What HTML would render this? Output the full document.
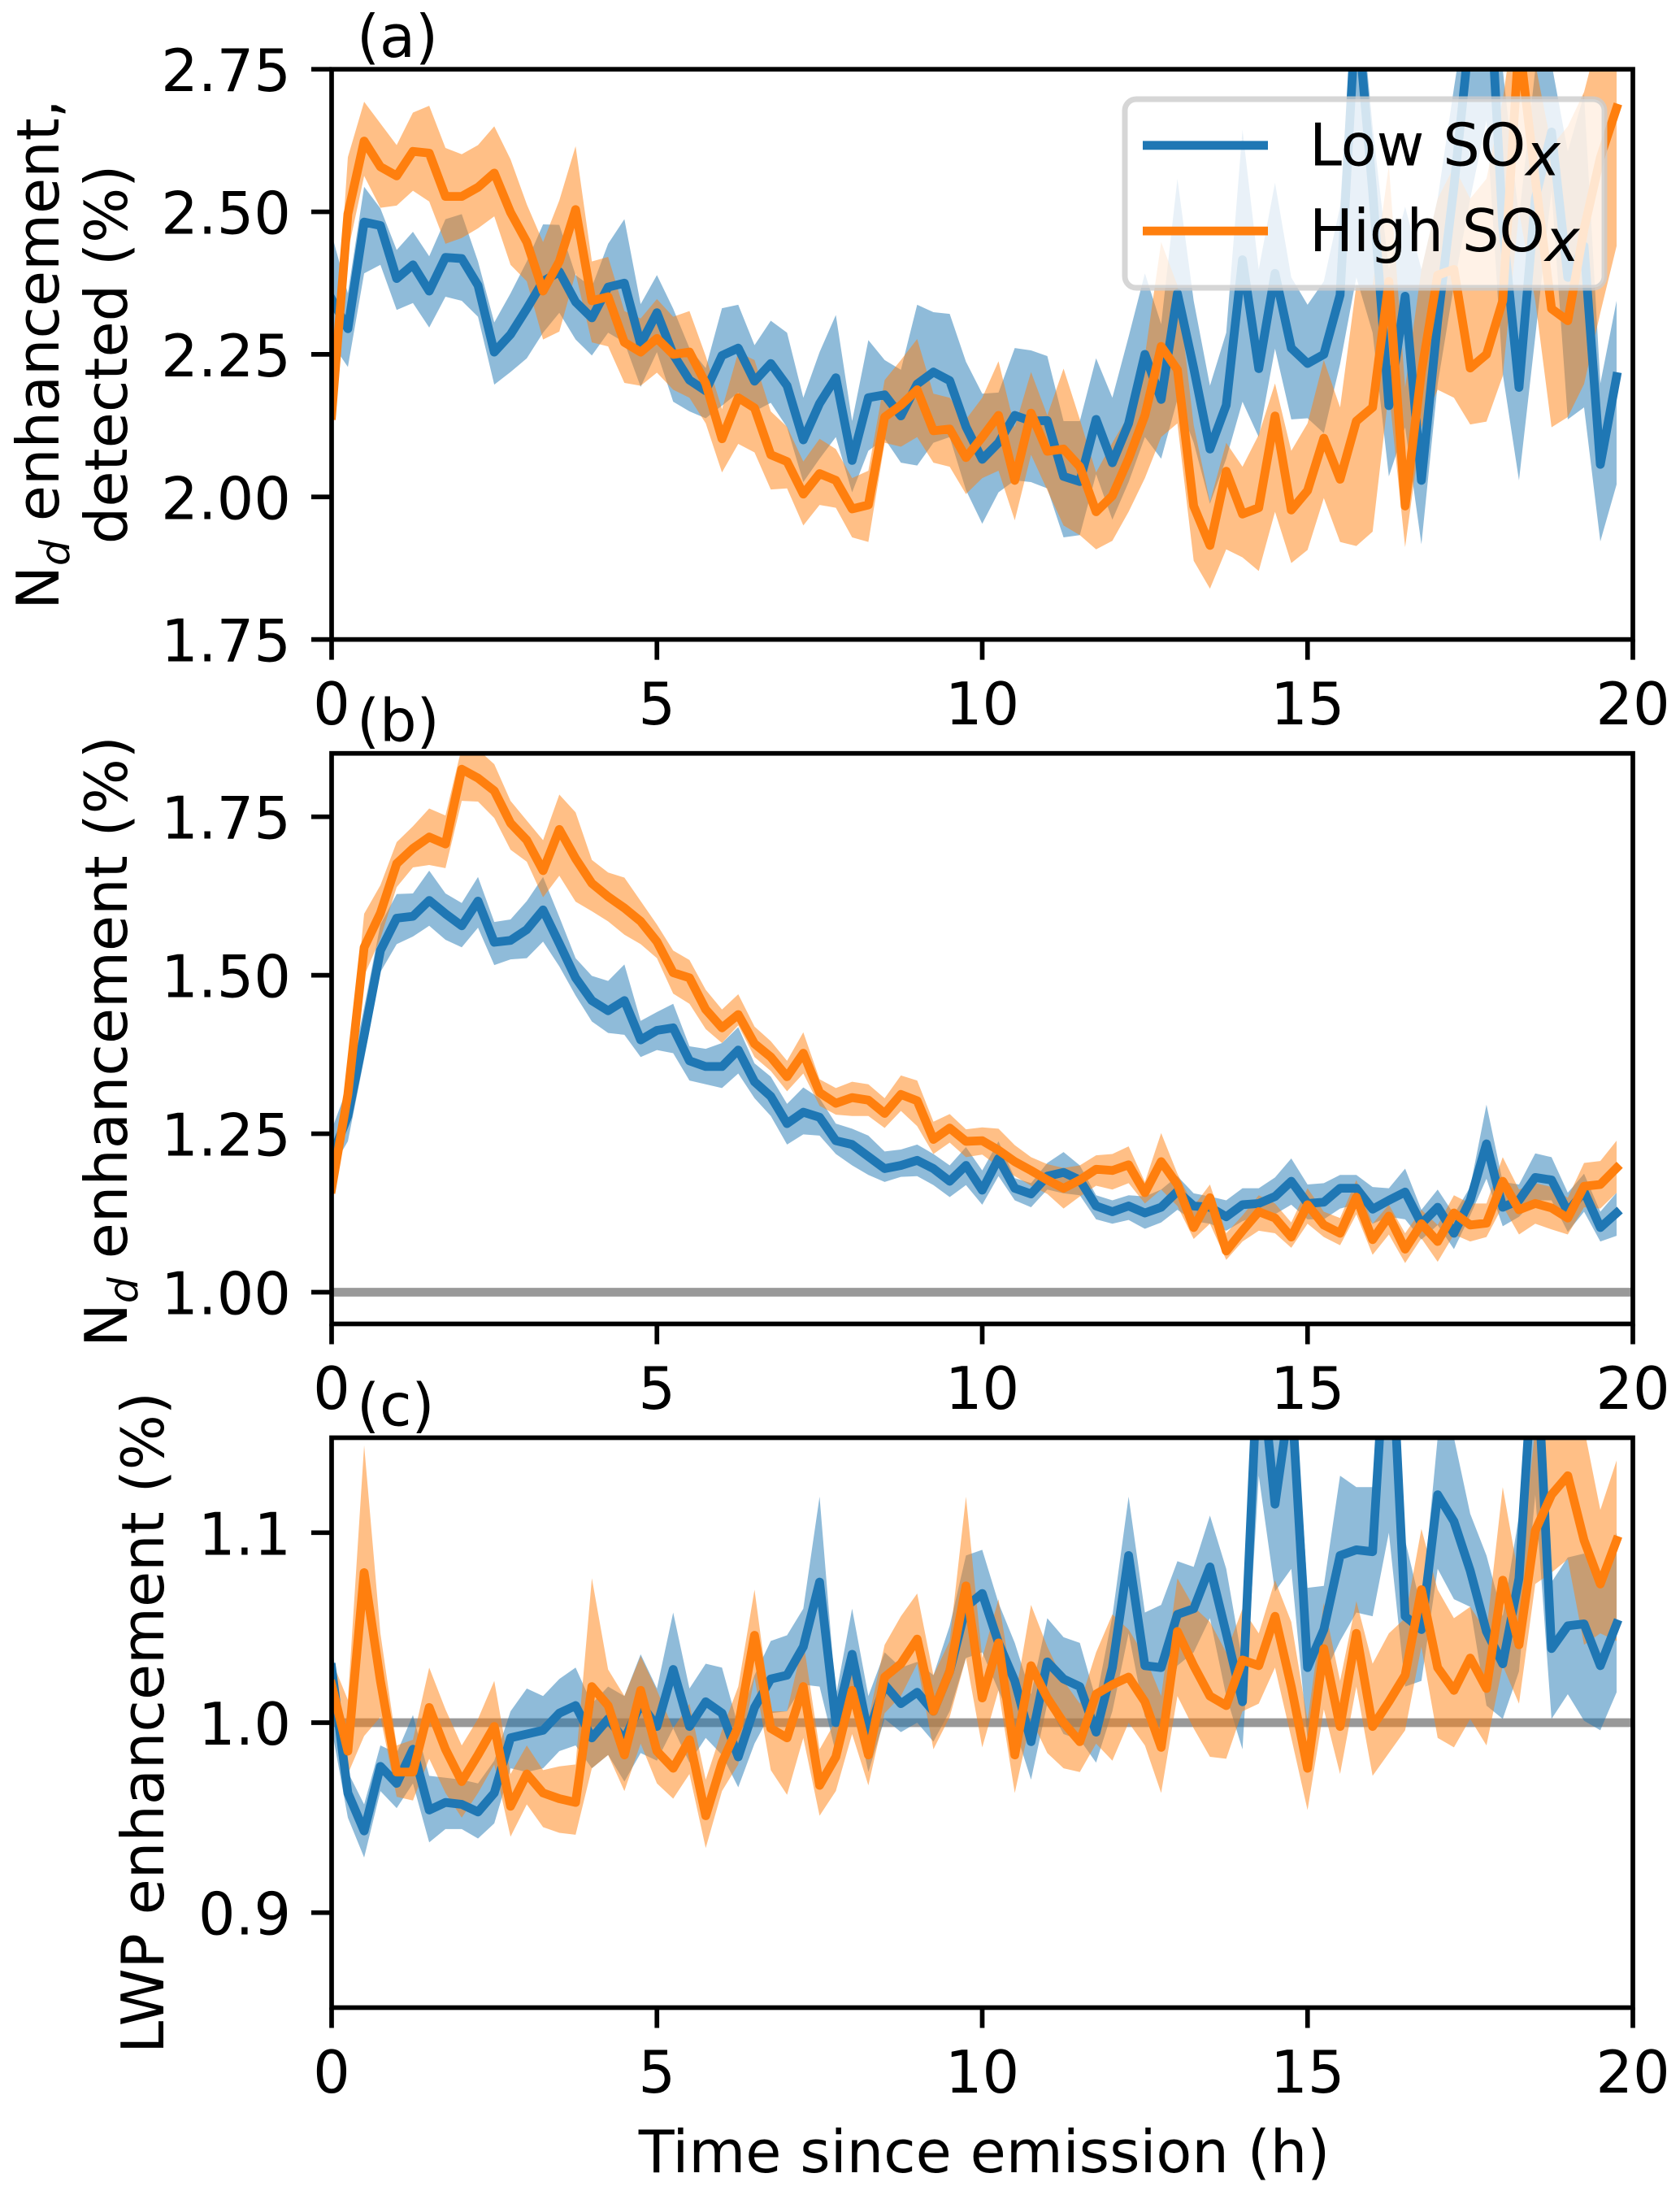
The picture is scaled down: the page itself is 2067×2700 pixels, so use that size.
<!DOCTYPE html>
<html lang="en">
<head>
<meta charset="utf-8">
<title>Nd and LWP enhancement vs time since emission</title>
<style>
html,body{margin:0;padding:0;background:#fff;}
svg{display:block;}
text{font-family:"DejaVu Sans","Liberation Sans",sans-serif;fill:#000;}
</style>
</head>
<body>
<svg id="chart" xmlns="http://www.w3.org/2000/svg" width="2067" height="2700" viewBox="0 0 2067 2700">
<rect x="0" y="0" width="2067" height="2700" fill="#fff"/>
</svg>
<script>
const xTicks=[0,5,10,15,20];
const stepHours=0.25;

const aTicks=[1.75,2.00,2.25,2.50,2.75];
const aTickLabels=["1.75","2.00","2.25","2.50","2.75"];
const aLowMean=[2.347,2.295,2.482,2.476,2.383,2.407,2.361,2.420,2.418,2.371,
2.254,2.285,2.330,2.378,2.395,2.342,2.314,2.368,2.375,2.268,
2.323,2.250,2.205,2.186,2.248,2.261,2.203,2.234,2.195,2.100,
2.164,2.209,2.064,2.174,2.179,2.142,2.198,2.219,2.204,2.123,
2.066,2.095,2.143,2.133,2.134,2.036,2.027,2.136,2.060,2.129,
2.250,2.171,2.357,2.226,2.084,2.161,2.416,2.225,2.392,2.261,
2.234,2.250,2.354,2.865,2.537,2.160,2.352,2.029,2.309,2.544,
2.820,3.000,2.475,2.192,2.523,2.640,2.385,2.440,2.057,2.211];
const aLowHi=[2.461,2.357,2.544,2.506,2.433,2.465,2.422,2.487,2.496,2.413,
2.306,2.357,2.413,2.478,2.477,2.389,2.368,2.444,2.487,2.338,
2.389,2.330,2.261,2.226,2.331,2.337,2.266,2.309,2.288,2.174,
2.254,2.319,2.133,2.275,2.240,2.223,2.337,2.324,2.321,2.237,
2.181,2.183,2.261,2.257,2.247,2.133,2.133,2.243,2.174,2.281,
2.392,2.303,2.558,2.344,2.195,2.288,2.644,2.399,2.551,2.385,
2.337,2.378,2.509,2.950,2.650,2.399,2.509,2.399,2.523,2.717,
2.900,3.100,2.750,2.489,2.750,2.760,2.606,2.706,2.199,2.344];
const aLowLo=[2.270,2.228,2.392,2.407,2.328,2.340,2.297,2.351,2.344,2.316,
2.197,2.219,2.243,2.288,2.323,2.276,2.248,2.288,2.271,2.193,
2.254,2.167,2.150,2.138,2.160,2.183,2.150,2.165,2.122,2.026,
2.067,2.105,2.008,2.081,2.102,2.060,2.055,2.095,2.105,2.012,
1.953,2.008,2.029,2.026,2.015,1.929,1.933,2.040,1.960,2.026,
2.105,2.067,2.171,2.095,1.988,2.067,2.167,2.105,2.260,2.136,
2.138,2.112,2.233,2.385,2.288,2.036,2.122,1.917,2.198,2.371,
2.523,2.660,2.216,2.029,2.281,2.537,2.136,2.157,1.922,2.022];
const aHighMean=[2.143,2.496,2.624,2.579,2.563,2.606,2.603,2.527,2.527,2.543,
2.568,2.499,2.447,2.361,2.413,2.504,2.344,2.351,2.271,2.254,
2.278,2.250,2.254,2.199,2.102,2.174,2.156,2.074,2.062,2.005,
2.041,2.029,1.979,1.986,2.140,2.161,2.188,2.116,2.119,2.069,
2.105,2.143,2.029,2.147,2.080,2.084,2.053,1.974,2.002,2.067,
2.143,2.264,2.223,1.984,1.915,2.045,1.970,1.981,2.142,1.977,
2.011,2.103,2.031,2.133,2.157,2.378,1.984,2.219,2.389,2.399,
2.226,2.250,2.344,2.800,2.558,2.330,2.309,2.470,2.595,2.682];
const aHighHi=[2.170,2.596,2.693,2.655,2.617,2.674,2.686,2.612,2.601,2.617,
2.650,2.592,2.513,2.447,2.520,2.615,2.413,2.421,2.326,2.313,
2.347,2.316,2.326,2.247,2.154,2.254,2.240,2.150,2.123,2.062,
2.102,2.084,2.033,2.046,2.205,2.240,2.277,2.181,2.174,2.136,
2.174,2.238,2.122,2.219,2.143,2.225,2.136,2.043,2.095,2.143,
2.247,2.447,2.371,2.126,1.991,2.095,2.053,2.109,2.199,2.081,
2.129,2.240,2.157,2.371,2.371,2.582,2.192,2.399,2.523,2.579,
2.523,2.558,2.696,2.900,2.760,2.615,2.650,2.710,2.820,2.820];
const aHighLo=[2.120,2.430,2.563,2.507,2.511,2.537,2.518,2.444,2.454,2.471,
2.492,2.407,2.378,2.276,2.290,2.392,2.271,2.264,2.200,2.195,
2.218,2.188,2.174,2.129,2.043,2.093,2.078,2.013,2.015,1.950,
1.986,1.981,1.929,1.921,2.095,2.088,2.105,2.060,2.053,2.005,
2.033,2.046,1.959,2.074,2.012,1.950,1.933,1.908,1.923,1.974,
2.033,2.105,2.129,1.888,1.839,1.908,1.894,1.870,1.974,1.884,
1.907,1.998,1.921,1.914,1.939,2.185,1.912,2.122,2.188,2.174,
2.127,2.132,2.212,2.500,2.344,2.122,2.140,2.198,2.323,2.440];

const bTicks=[1.00,1.25,1.50,1.75];
const bTickLabels=["1.00","1.25","1.50","1.75"];
const bLowMean=[1.213,1.278,1.405,1.539,1.590,1.593,1.618,1.597,1.578,1.617,
1.552,1.555,1.572,1.603,1.550,1.496,1.460,1.444,1.460,1.398,
1.413,1.417,1.365,1.356,1.356,1.382,1.332,1.309,1.266,1.284,
1.276,1.239,1.233,1.214,1.195,1.200,1.208,1.195,1.175,1.200,
1.161,1.211,1.164,1.155,1.183,1.189,1.177,1.136,1.127,1.136,
1.125,1.134,1.159,1.136,1.134,1.119,1.138,1.140,1.151,1.175,
1.140,1.142,1.164,1.164,1.131,1.145,1.158,1.108,1.134,1.093,
1.145,1.234,1.134,1.145,1.181,1.177,1.127,1.159,1.102,1.125];
const bLowHi=[1.256,1.325,1.449,1.580,1.628,1.629,1.665,1.629,1.614,1.655,
1.584,1.588,1.617,1.655,1.592,1.527,1.499,1.491,1.517,1.428,
1.442,1.455,1.388,1.384,1.393,1.418,1.361,1.340,1.297,1.323,
1.306,1.266,1.258,1.247,1.222,1.225,1.233,1.218,1.200,1.229,
1.192,1.238,1.180,1.172,1.204,1.221,1.200,1.153,1.145,1.153,
1.151,1.162,1.183,1.156,1.151,1.145,1.164,1.164,1.181,1.211,
1.170,1.172,1.185,1.185,1.166,1.164,1.195,1.130,1.162,1.123,
1.166,1.296,1.174,1.170,1.219,1.213,1.157,1.187,1.127,1.157];
const bLowLo=[1.194,1.238,1.368,1.505,1.549,1.561,1.578,1.556,1.544,1.575,
1.516,1.525,1.527,1.553,1.514,1.468,1.427,1.409,1.406,1.371,
1.382,1.377,1.334,1.328,1.322,1.345,1.306,1.278,1.233,1.249,
1.247,1.218,1.200,1.185,1.174,1.182,1.183,1.169,1.150,1.169,
1.138,1.183,1.145,1.134,1.162,1.156,1.153,1.115,1.108,1.114,
1.100,1.110,1.130,1.112,1.108,1.097,1.112,1.121,1.123,1.138,
1.115,1.115,1.132,1.138,1.108,1.119,1.115,1.083,1.106,1.068,
1.121,1.179,1.104,1.119,1.145,1.145,1.095,1.127,1.080,1.089];
const bHighMean=[1.163,1.312,1.544,1.598,1.676,1.700,1.718,1.707,1.825,1.811,
1.791,1.740,1.713,1.665,1.730,1.684,1.645,1.624,1.606,1.585,
1.553,1.504,1.496,1.446,1.417,1.438,1.392,1.371,1.340,1.377,
1.315,1.298,1.307,1.303,1.282,1.312,1.302,1.241,1.259,1.238,
1.239,1.224,1.206,1.192,1.177,1.164,1.177,1.194,1.192,1.201,
1.157,1.206,1.170,1.102,1.149,1.065,1.097,1.127,1.117,1.087,
1.138,1.106,1.093,1.150,1.083,1.120,1.068,1.108,1.080,1.125,
1.106,1.109,1.175,1.130,1.140,1.133,1.117,1.167,1.170,1.196];
const bHighHi=[1.170,1.337,1.597,1.642,1.710,1.735,1.763,1.752,1.859,1.856,
1.833,1.775,1.744,1.713,1.785,1.757,1.682,1.662,1.654,1.617,
1.580,1.539,1.524,1.477,1.446,1.470,1.419,1.396,1.365,1.410,
1.336,1.322,1.332,1.328,1.306,1.342,1.334,1.269,1.281,1.257,
1.260,1.258,1.232,1.213,1.202,1.196,1.200,1.216,1.218,1.230,
1.174,1.251,1.187,1.136,1.170,1.093,1.121,1.153,1.140,1.110,
1.164,1.127,1.117,1.177,1.108,1.138,1.093,1.130,1.106,1.153,
1.140,1.140,1.213,1.162,1.172,1.166,1.149,1.204,1.207,1.239];
const bHighLo=[1.160,1.287,1.499,1.558,1.639,1.670,1.674,1.669,1.775,1.774,
1.748,1.698,1.679,1.623,1.657,1.616,1.601,1.585,1.564,1.549,
1.527,1.471,1.455,1.415,1.393,1.421,1.371,1.349,1.317,1.345,
1.294,1.280,1.278,1.278,1.259,1.286,1.262,1.218,1.236,1.213,
1.217,1.198,1.183,1.168,1.155,1.132,1.151,1.168,1.162,1.172,
1.140,1.162,1.136,1.084,1.108,1.051,1.080,1.097,1.093,1.070,
1.108,1.087,1.074,1.123,1.059,1.091,1.046,1.085,1.048,1.091,
1.080,1.087,1.136,1.091,1.108,1.099,1.091,1.134,1.132,1.157];

const cTicks=[0.9,1.0,1.1];
const cTickLabels=["0.9","1.0","1.1"];
const cLowMean=[1.029,0.963,0.943,0.977,0.968,0.986,0.954,0.958,0.957,0.953,
0.963,0.992,0.994,0.996,1.005,1.009,0.992,1.002,0.991,1.010,
0.998,1.028,0.998,1.011,1.005,0.982,1.008,1.023,1.025,1.040,
1.074,1.000,1.036,0.994,1.020,1.010,1.016,1.006,1.027,1.061,
1.068,1.042,1.022,0.990,1.032,1.023,1.019,0.995,1.029,1.088,
1.030,1.029,1.057,1.060,1.082,1.047,1.011,1.200,1.115,1.175,
1.029,1.049,1.088,1.091,1.090,1.230,1.056,1.049,1.120,1.106,
1.080,1.048,1.031,1.076,1.210,1.039,1.051,1.052,1.030,1.052];
const cLowHi=[1.043,0.974,0.957,0.988,0.984,1.004,0.972,0.971,0.970,0.968,
0.980,1.006,1.018,1.014,1.023,1.029,1.010,1.019,1.014,1.036,
1.018,1.058,1.018,1.031,1.029,0.998,1.025,1.043,1.046,1.060,
1.119,1.014,1.060,1.014,1.037,1.029,1.032,1.025,1.051,1.088,
1.091,1.063,1.042,1.015,1.055,1.045,1.042,1.012,1.056,1.119,
1.058,1.062,1.085,1.082,1.109,1.081,1.032,1.240,1.160,1.200,
1.071,1.072,1.130,1.124,1.124,1.260,1.096,1.060,1.150,1.150,
1.110,1.088,1.056,1.109,1.240,1.074,1.087,1.089,1.073,1.100];
const cLowLo=[0.997,0.950,0.929,0.964,0.955,0.968,0.937,0.944,0.944,0.939,
0.947,0.976,0.974,0.976,0.985,0.988,0.976,0.983,0.969,0.984,
0.980,0.997,0.979,0.992,0.983,0.966,0.989,1.005,1.006,1.020,
1.019,0.984,1.014,0.974,1.002,0.995,1.000,0.990,1.006,1.034,
1.037,1.017,0.997,0.970,1.010,0.994,0.991,0.979,1.006,1.047,
1.003,0.996,1.030,1.037,1.055,1.014,0.986,1.130,1.069,1.081,
0.991,1.025,1.043,1.058,1.056,1.100,1.019,1.022,1.081,1.065,
1.061,1.009,1.002,1.027,1.120,1.002,1.015,1.001,0.996,1.016];
const cHighMean=[1.020,0.985,1.079,1.022,0.974,0.974,1.008,0.986,0.969,0.983,
0.998,0.956,0.973,0.963,0.960,0.958,1.019,1.009,0.983,1.017,
0.985,0.976,0.991,0.951,0.979,0.998,1.046,0.997,0.992,1.019,
0.967,0.982,1.017,0.983,1.024,1.031,1.044,1.006,1.027,1.072,
1.013,1.042,0.983,1.030,1.013,1.000,0.990,1.015,1.020,1.024,
1.011,0.987,1.048,1.030,1.014,1.009,1.033,1.030,1.056,1.019,
0.976,1.039,0.998,1.047,0.998,1.011,1.025,1.070,1.029,1.017,
1.034,1.018,1.075,1.041,1.101,1.120,1.130,1.096,1.073,1.096];
const cHighHi=[1.033,1.012,1.146,1.047,0.988,0.991,1.029,1.007,0.988,1.002,
1.022,0.973,0.988,0.975,0.977,0.978,1.076,1.028,1.014,1.035,
1.017,0.997,1.010,0.970,0.996,1.019,1.070,1.006,1.006,1.043,
0.986,1.001,1.035,1.002,1.041,1.056,1.068,1.025,1.043,1.119,
1.034,1.065,1.012,1.062,1.040,1.022,1.010,1.037,1.057,1.049,
1.035,1.014,1.076,1.061,1.053,1.037,1.060,1.047,1.075,1.053,
1.001,1.063,1.022,1.064,1.031,1.047,1.055,1.102,1.070,1.055,
1.061,1.048,1.124,1.076,1.155,1.160,1.160,1.155,1.112,1.138];
const cHighLo=[1.004,0.973,0.993,1.003,0.961,0.959,0.981,0.963,0.950,0.963,
0.978,0.940,0.957,0.945,0.942,0.941,0.976,0.983,0.964,0.989,
0.968,0.960,0.973,0.934,0.964,0.978,1.024,0.975,0.962,0.992,
0.951,0.964,0.994,0.967,1.005,1.014,1.031,0.986,1.003,1.034,
0.987,1.017,0.963,1.002,0.984,0.976,0.974,0.989,0.980,1.000,
0.988,0.963,1.014,0.997,0.982,0.981,1.006,1.010,1.029,0.992,
0.954,1.007,0.973,1.019,0.972,0.984,0.996,1.040,0.992,0.987,
1.002,0.988,1.030,1.010,1.073,1.079,1.086,1.041,1.047,1.043];

const NS="http://www.w3.org/2000/svg";
const svg=document.getElementById("chart");
const FONT=71.8, SUB=50.3;
const LW=10.8, SPINE=5.7, TICK=25;
const LEFT=408, RIGHT=2009;
const BLUE="#1f77b4", ORANGE="#ff7f0e";

function xScale(h){return LEFT+(h-xTicks[0])/(xTicks[xTicks.length-1]-xTicks[0])*(RIGHT-LEFT);}
function makeYScale(ymin,ymax,top,bottom){return function(v){return bottom-(v-ymin)/(ymax-ymin)*(bottom-top);};}
function timeOf(i){return i*stepHours;}
function make(tag,attrs,parent){
  const n=document.createElementNS(NS,tag);
  for(const k in attrs){n.setAttribute(k,attrs[k]);}
  (parent||svg).appendChild(n);
  return n;
}
function linePoints(values,y){return values.map(function(v,i){return xScale(timeOf(i)).toFixed(2)+","+y(v).toFixed(2);}).join(" ");}
function bandPoints(lo,hi,y){
  const a=lo.map(function(v,i){return xScale(timeOf(i)).toFixed(2)+","+y(v).toFixed(2);});
  const b=hi.map(function(v,i){return xScale(timeOf(i)).toFixed(2)+","+y(v).toFixed(2);}).reverse();
  return a.concat(b).join(" ");
}
function drawPanel(p){
  const y=makeYScale(p.ymin,p.ymax,p.top,p.bottom);
  const group=make("g",{});
  
  
  const defs=make("defs",{},group);
  const clip=make("clipPath",{id:p.id+"-clip"},defs);
  make("rect",{x:LEFT,y:p.top,width:RIGHT-LEFT,height:p.bottom-p.top},clip);
  const plot=make("g",{"clip-path":"url(#"+p.id+"-clip)"},group);
  
  
  if(p.refLine!==null){
    const ref=make("line",{x1:LEFT,x2:RIGHT,y1:y(p.refLine),y2:y(p.refLine),stroke:"#999",
      "stroke-width":LW},plot);
    
    
  }
  const lowBand=make("polygon",{points:bandPoints(p.lowLo,p.lowHi,y),fill:BLUE,"fill-opacity":0.5},plot);
  
  
  const highBand=make("polygon",{points:bandPoints(p.highLo,p.highHi,y),fill:ORANGE,"fill-opacity":0.5},plot);
  
  
  const lowLine=make("polyline",{points:linePoints(p.lowMean,y),fill:"none",stroke:BLUE,"stroke-width":LW,
    "stroke-linejoin":"round","stroke-linecap":"square"},plot);
  
  
  const highLine=make("polyline",{points:linePoints(p.highMean,y),fill:"none",stroke:ORANGE,"stroke-width":LW,
    "stroke-linejoin":"round","stroke-linecap":"square"},plot);
  
  

  const spine=make("rect",{x:LEFT,y:p.top,width:RIGHT-LEFT,height:p.bottom-p.top,fill:"none",stroke:"#000",
    "stroke-width":SPINE},group);
  
  

  xTicks.forEach(function(t){
    const px=xScale(t);
    const tk=make("line",{x1:px,x2:px,y1:p.bottom,y2:p.bottom+TICK,stroke:"#000","stroke-width":SPINE},group);
    
    
    const lb=make("text",{x:px,y:p.bottom+104.5,"text-anchor":"middle","font-size":FONT},group);
    
    
    lb.textContent=String(t);
  });
  p.ticks.forEach(function(t,i){
    const py=y(t);
    const tk=make("line",{x1:LEFT-TICK,x2:LEFT,y1:py,y2:py,stroke:"#000","stroke-width":SPINE},group);
    
    
    const lb=make("text",{x:358,y:py+27,"text-anchor":"end","font-size":FONT},group);
    
    
    lb.textContent=p.tickLabels[i];
  });
  const title=make("text",{x:439,y:p.top-15,"font-size":FONT},group);
  
  
  title.textContent=p.letter;
}
function yLabel(parts,x,cy,name){
  const t=make("text",{"text-anchor":"middle","font-size":FONT,transform:"translate("+x+","+cy+") rotate(-90)"});
  
  
  let shift=0;
  parts.forEach(function(part){
    const s=make("tspan",{},t);
    if(part.sub){
      s.setAttribute("font-size",SUB);
      s.setAttribute("font-style","italic");
      s.setAttribute("dy",13-shift);
      shift=13;
    }else{
      s.setAttribute("dy",-shift);
      shift=0;
    }
    s.textContent=part.text;
  });
}

const panelTops=[85.2,926.7,1768.5];
const panelBottoms=[786.6,1628.5,2469.5];
drawPanel({id:"panel-a",letter:"(a)",top:panelTops[0],bottom:panelBottoms[0],ymin:1.75,ymax:2.75,refLine:null,
  ticks:aTicks,tickLabels:aTickLabels,lowMean:aLowMean,lowHi:aLowHi,lowLo:aLowLo,highMean:aHighMean,highHi:aHighHi,highLo:aHighLo});
drawPanel({id:"panel-b",letter:"(b)",top:panelTops[1],bottom:panelBottoms[1],ymin:0.95,ymax:1.85,refLine:1,
  ticks:bTicks,tickLabels:bTickLabels,lowMean:bLowMean,lowHi:bLowHi,lowLo:bLowLo,highMean:bHighMean,highHi:bHighHi,highLo:bHighLo});
drawPanel({id:"panel-c",letter:"(c)",top:panelTops[2],bottom:panelBottoms[2],ymin:0.85,ymax:1.15,refLine:1,
  ticks:cTicks,tickLabels:cTickLabels,lowMean:cLowMean,lowHi:cLowHi,lowLo:cLowLo,highMean:cHighMean,highHi:cHighHi,highLo:cHighLo});

yLabel([{text:"N"},{text:"d",sub:true},{text:" enhancement,"}],72,436,"panel-a-y-axis-title-line-1");
yLabel([{text:"detected (%)"}],156,436,"panel-a-y-axis-title-line-2");
yLabel([{text:"N"},{text:"d",sub:true},{text:" enhancement (%)"}],156,1281,"panel-b-y-axis-title");
yLabel([{text:"LWP enhancement (%)"}],201,2119,"panel-c-y-axis-title");

const xTitle=make("text",{x:1211,y:2672,"text-anchor":"middle","font-size":FONT});


xTitle.textContent="Time since emission (h)";

const legend=make("g",{});


const legendBox=make("rect",{x:1384,y:122,width:590,height:232,rx:14,ry:14,fill:"#fff","fill-opacity":0.8,
  stroke:"#ccc","stroke-opacity":0.8,"stroke-width":6.9},legend);


const legendEntries=[["Low SO",BLUE,"low"],["High SO",ORANGE,"high"]];
legendEntries.forEach(function(e,i){
  const ly=178.8+i*105.3;
  const sw=make("line",{x1:1406,x2:1560,y1:ly,y2:ly,stroke:e[1],"stroke-width":LW},legend);
  
  
  const tx=make("text",{x:1611,y:ly+24.8,"font-size":FONT},legend);
  
  
  const base=make("tspan",{},tx);
  base.textContent=e[0];
  const sub=make("tspan",{dy:12,"font-style":"italic"},tx);
  sub.textContent="x";
});
</script>
</body>
</html>
